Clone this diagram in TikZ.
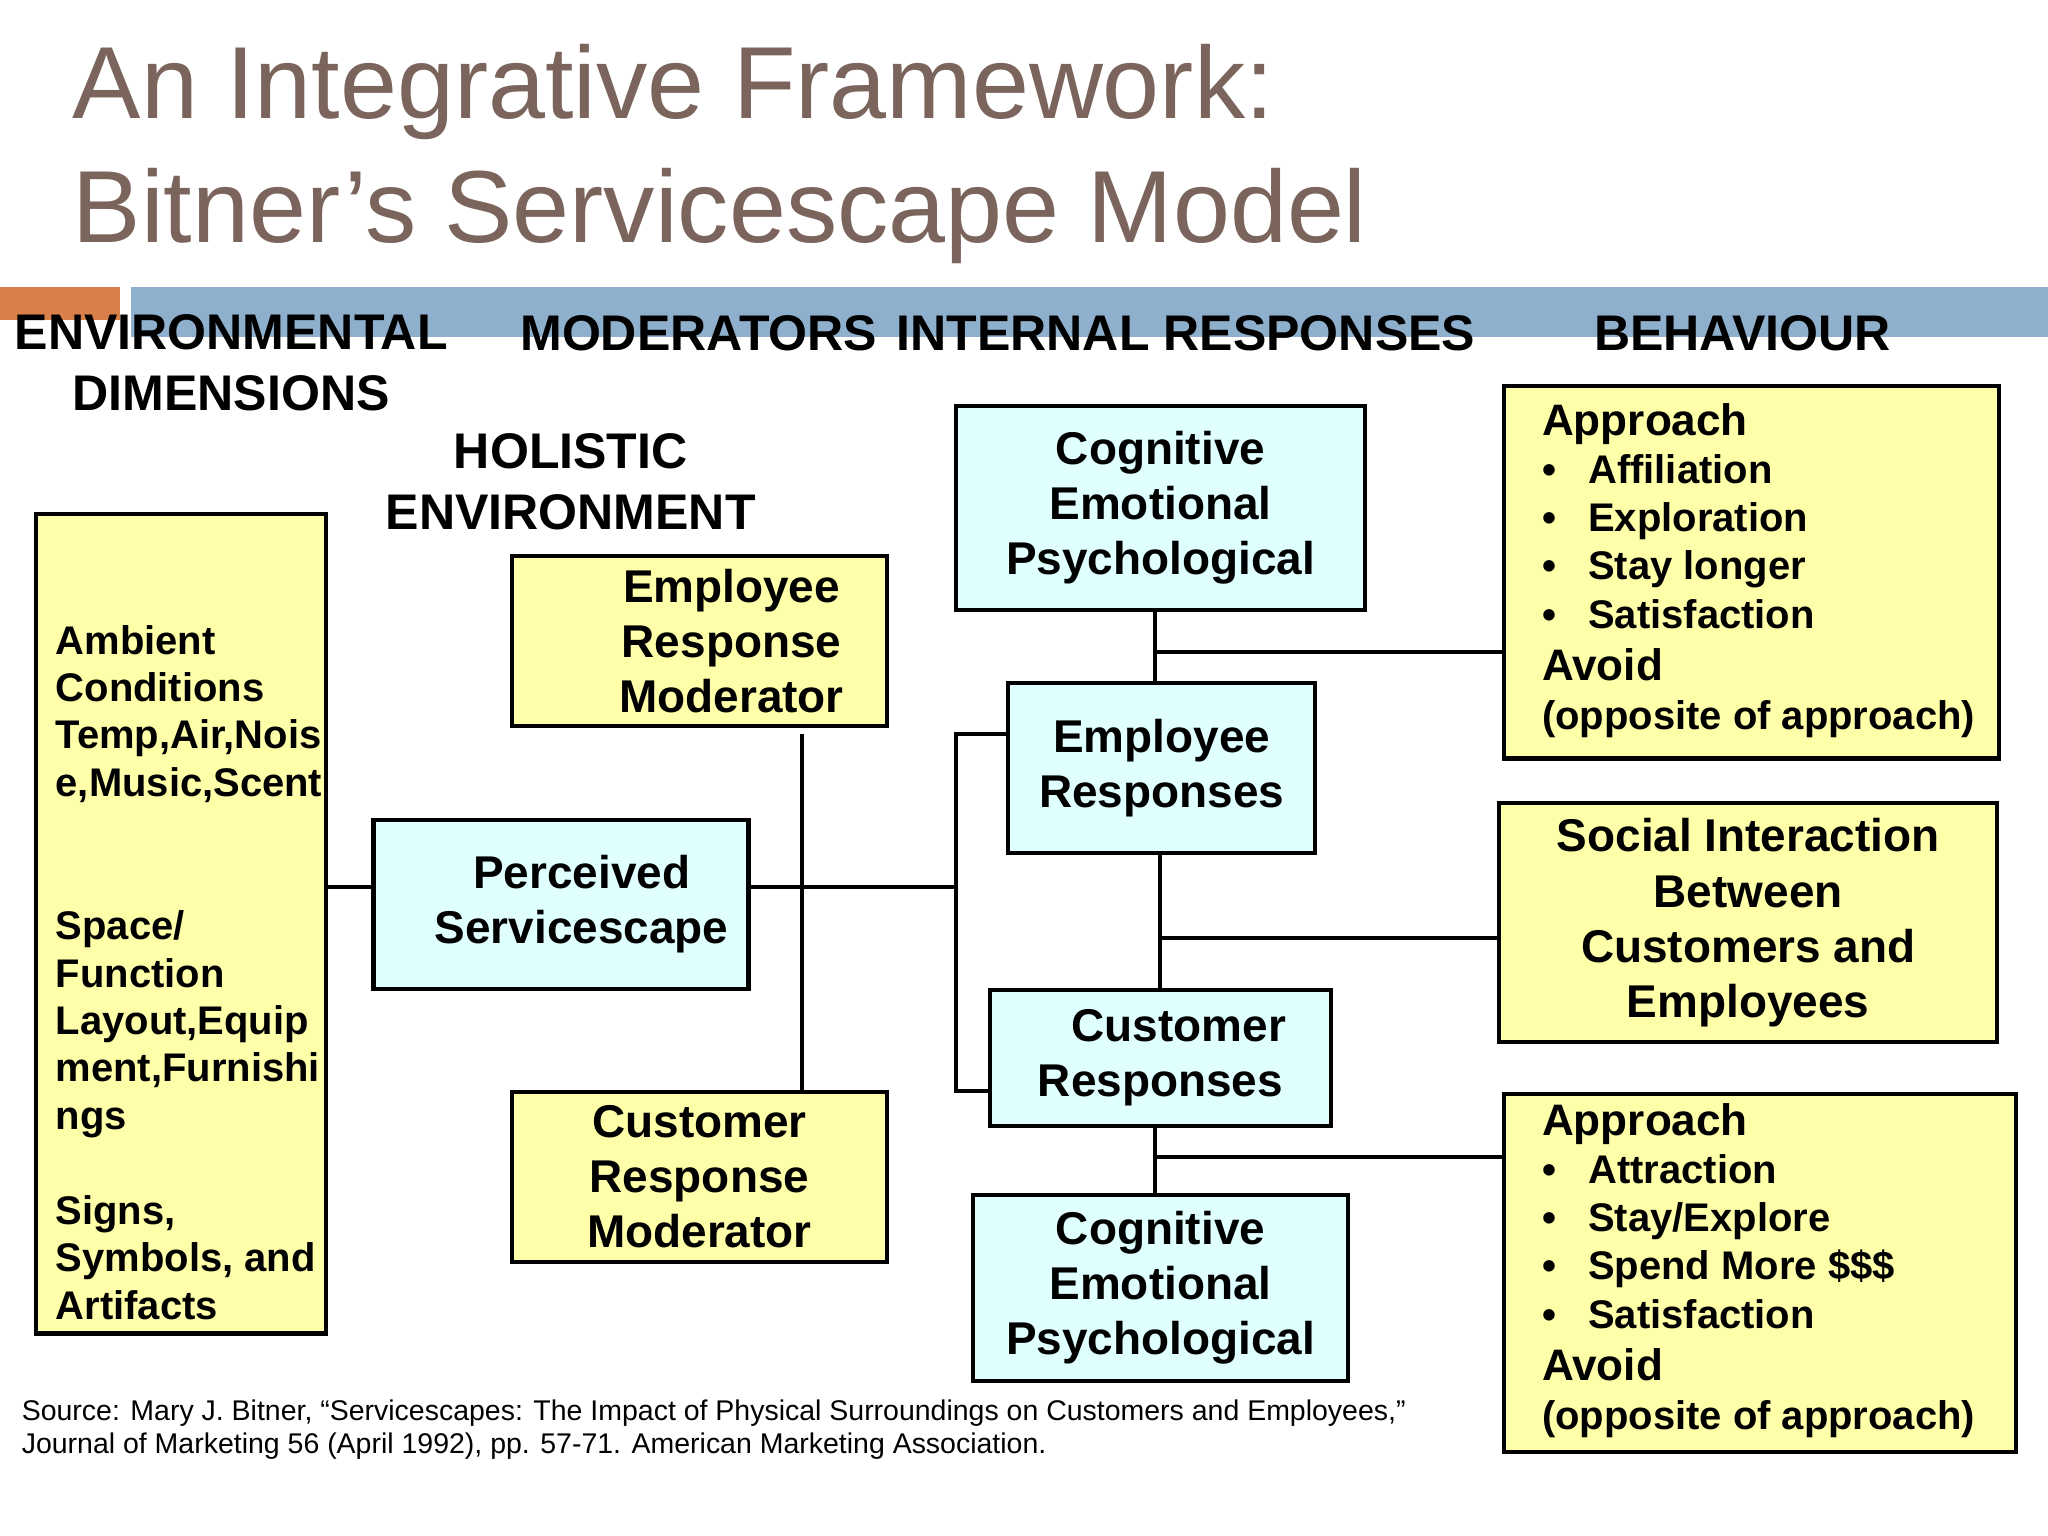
\documentclass[tikz,border=0pt]{standalone}
\usepackage{fontspec}
\setmainfont{Liberation Sans}
\definecolor{ybox}{HTML}{FFFFAA}
\definecolor{cbox}{HTML}{E0FFFF}
\definecolor{ttl}{HTML}{7A645C}
\definecolor{bar1}{HTML}{D9804A}
\definecolor{bar2}{HTML}{8FB0CC}
\tikzset{
 bx/.style={draw=black,line width=0.9pt,inner sep=0pt},
 yb/.style={bx,fill=ybox},
 cb/.style={bx,fill=cbox},
 bt/.style={font=\fontsize{10}{12}\selectfont\bfseries,align=center},
 hd/.style={font=\fontsize{10.9}{13.3}\selectfont\bfseries,align=center},
 ln/.style={line width=0.9pt}
}
\begin{document}
\begin{tikzpicture}[x=0.01cm,y=-0.01cm]
\useasboundingbox[fill=white] (0,0) rectangle (1568,1176);
% title
\node[anchor=north west,text=ttl,font=\fontsize{22.3}{27}\selectfont,align=left,inner sep=0] (title) at (55,33) {An Integrative Framework:\\Bitner’s Servicescape Model};
\fill[bar1] (0,220) rectangle (92,245);
\fill[bar2] (100,220) rectangle (1568,258);
% headers
\node[hd] (h1) at (177,278) {ENVIRONMENTAL\\DIMENSIONS};
\node[hd] (h2) at (535,255) {MODERATORS};
\node[hd] (h3) at (908,255) {INTERNAL RESPONSES};
\node[hd] (h4) at (1334,255) {BEHAVIOUR};
\node[hd] (h5) at (437,369) {HOLISTIC\\ENVIRONMENT};
% boxes
\node[yb,minimum width=2.22cm,minimum height=6.27cm,anchor=north west] (env) at (26,392) {};
\node[anchor=north west,inner sep=0,align=left,font=\fontsize{8.7}{10.3}\selectfont\bfseries] (envt) at (42,478) {Ambient\\Conditions\\Temp,Air,Nois\\e,Music,Scent\\[21pt]Space/\\Function\\Layout,Equip\\ment,Furnishi\\ngs\\[10.5pt]Signs,\\Symbols, and\\Artifacts};
\node[yb,minimum width=2.87cm,minimum height=1.30cm,bt] (erm) at (535.5,491) {\hspace{14pt}Employee\\\hspace{14pt}Response\\\hspace{14pt}Moderator};
\node[cb,minimum width=2.87cm,minimum height=1.29cm,bt] (ps) at (429.5,692.5) {\hspace{9pt}Perceived\\\hspace{9pt}Servicescape};
\node[yb,minimum width=2.87cm,minimum height=1.30cm,bt] (crm) at (535.5,901) {Customer\\Response\\Moderator};
\node[cb,minimum width=3.13cm,minimum height=1.56cm,bt] (cog1) at (888.5,389) {Cognitive\\Emotional\\Psychological};
\node[cb,minimum width=2.35cm,minimum height=1.30cm,bt] (er) at (889.5,588) {Employee\\Responses};
\node[cb,minimum width=2.61cm,minimum height=1.04cm,bt] (cr) at (888.5,810) {\hspace{8pt}Customer\\Responses};
\node[cb,minimum width=2.87cm,minimum height=1.42cm,bt] (cog2) at (888.5,986) {Cognitive\\Emotional\\Psychological};
\node[yb,minimum width=3.79cm,minimum height=2.85cm,anchor=north west] (ap1) at (1150,294) {};
\node[anchor=north west,inner sep=0,align=left,font=\fontsize{8.7}{10.5}\selectfont\bfseries] (ap1t) at (1180,308) {{\fontsize{9.6}{10}\selectfont Approach}\\
\textbullet\hspace{7pt}Affiliation\\ \textbullet\hspace{7pt}Exploration\\ \textbullet\hspace{7pt}Stay longer\\ \textbullet\hspace{7pt}Satisfaction\\[1pt]{\fontsize{9.6}{10}\selectfont Avoid}\\(opposite of approach)};
\node[yb,minimum width=3.81cm,minimum height=1.83cm,bt] (soc) at (1338.5,706.5) {Social Interaction\\Between\\Customers and\\Employees};
\node[yb,minimum width=3.92cm,minimum height=2.74cm,anchor=north west] (ap2) at (1150,836) {};
\node[anchor=north west,inner sep=0,align=left,font=\fontsize{8.7}{10.5}\selectfont\bfseries] (ap2t) at (1180,844) {{\fontsize{9.6}{10}\selectfont Approach}\\
\textbullet\hspace{7pt}Attraction\\ \textbullet\hspace{7pt}Stay/Explore\\ \textbullet\hspace{7pt}Spend More \$\$\$\\ \textbullet\hspace{7pt}Satisfaction\\[1pt]{\fontsize{9.6}{10}\selectfont Avoid}\\(opposite of approach)};
% connectors
\draw[ln] (env.east |- 0,679) -- (ps.west |- 0,679);
\draw[ln] (ps.east |- 0,679) -- (732,679);
\draw[ln] (614,562) -- (crm.north -| 614,0);
\draw[ln] (er.west |- 0,562) -- (732,562) -- (732,835) -- (cr.west |- 0,835);
\draw[ln] (cog1.south -| 884,0) -- (er.north -| 884,0);
\draw[ln] (884,499) -- (ap1.west |- 0,499);
\draw[ln] (er.south -| 888,0) -- (cr.north -| 888,0);
\draw[ln] (888,718) -- (soc.west |- 0,718);
\draw[ln] (cr.south -| 884,0) -- (cog2.north -| 884,0);
\draw[ln] (884,886) -- (ap2.west |- 0,886);
% source
\node[anchor=north west,inner sep=0,align=left,font=\fontsize{6.2}{7.3}\selectfont] (src) at (16,1071) {Source: Mary J. Bitner, “Servicescapes: The Impact of Physical Surroundings on Customers and Employees,”\\Journal of Marketing 56 (April 1992), pp. 57-71. American Marketing Association.};
\end{tikzpicture}
\end{document}
